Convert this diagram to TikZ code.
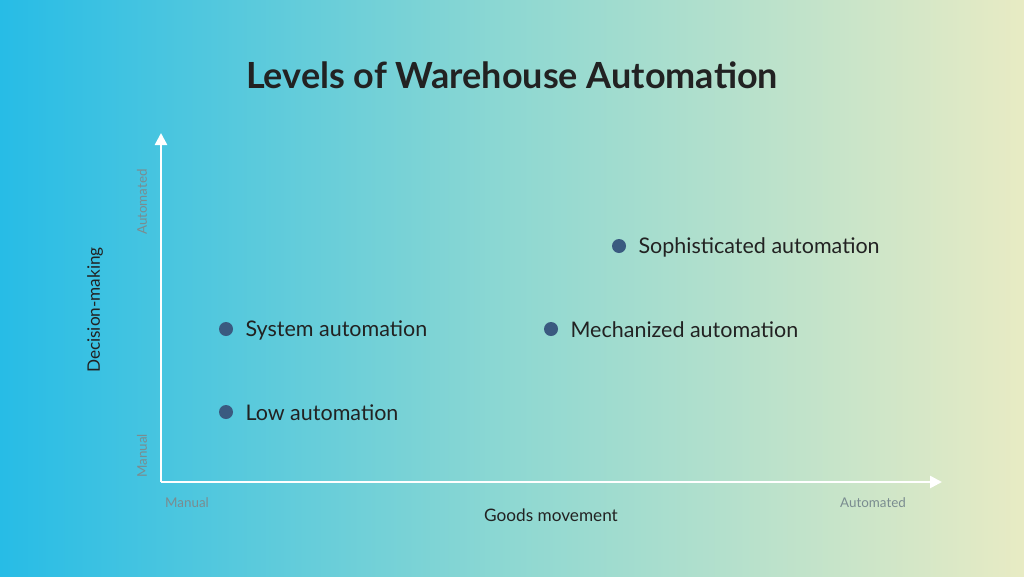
\documentclass[tikz,border=0pt]{standalone}
\usepackage{fontspec}
\setmainfont{Lato}
\usetikzlibrary{arrows.meta}
\definecolor{cL}{HTML}{27BCE6}
\definecolor{cM}{HTML}{8ED8D2}
\definecolor{cR}{HTML}{E8EBC4}
\definecolor{dot}{HTML}{3A5A80}
\definecolor{ink}{HTML}{222222}
\definecolor{faint}{HTML}{7A8C90}
\begin{document}
\begin{tikzpicture}[x=1pt,y=-1pt,
  pt/.style={circle,fill=dot,inner sep=0pt,minimum size=14pt},
  lbl/.style={anchor=west,text=ink,font=\fontsize{21.5}{25}\selectfont},
  small/.style={text=faint,font=\fontsize{13.4}{16}\selectfont},
  axis/.style={white,line width=2.5pt,-{Triangle[length=12pt,width=12pt]}}]
\shade[left color=cL,right color=cR,middle color=cM] (0,0) rectangle (1024,576);
\useasboundingbox (0,0) rectangle (1024,576);
\node[text=ink,font=\fontsize{36}{42}\selectfont\bfseries] (title) at (512,75) {Levels of Warehouse Automation};
\coordinate (o) at (161,482);
\coordinate (yt) at (161,133);
\coordinate (xt) at (942,482);
\draw[axis] (o) -- (yt);
\draw[axis] (o) -- (xt);
\node[pt] (d1) at (226,329) {};
\node[pt] (d2) at (226,412) {};
\node[pt] (d3) at (551,329) {};
\node[pt] (d4) at (619,246) {};
\node[lbl] (l1) at (242,330) {System automation};
\node[lbl] (l2) at (242,413) {Low automation};
\node[lbl] (l3) at (567,330) {Mechanized automation};
\node[lbl] (l4) at (635,247) {Sophisticated automation};
\node[text=ink,font=\fontsize{17.2}{20}\selectfont,rotate=90] (yl) at (95,310) {Decision-making};
\node[text=ink,font=\fontsize{17.2}{20}\selectfont] (xl) at (551,515) {Goods movement};
\node[small] (xm) at (187,503) {Manual};
\node[small] (xa) at (873,503) {Automated};
\node[small,rotate=90] (ya) at (142,202) {Automated};
\node[small,rotate=90] (ym) at (142,456) {Manual};
\end{tikzpicture}
\end{document}
